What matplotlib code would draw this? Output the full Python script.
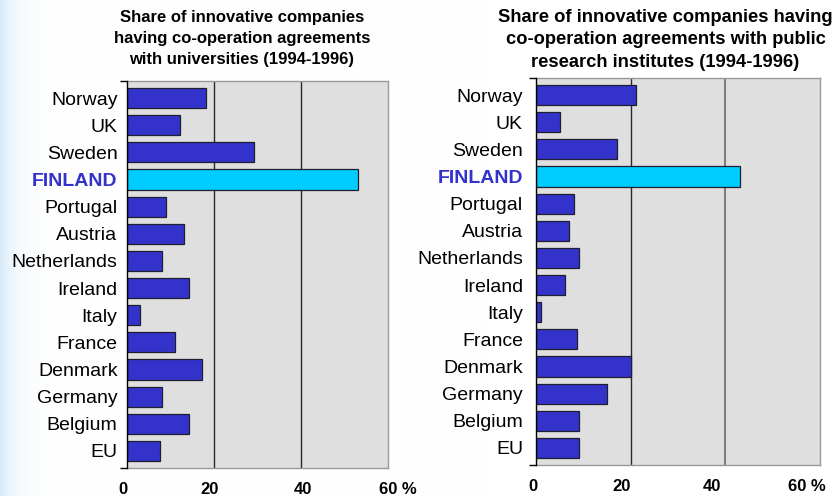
import numpy as np
import matplotlib
matplotlib.use("Agg")
import matplotlib.pyplot as plt
from matplotlib.transforms import ScaledTranslation

plt.rcParams['font.family'] = ['Liberation Sans', 'DejaVu Sans']

# ---------------- data ----------------
countries_left = ["Norway", "UK", "Sweden", "FINLAND", "Portugal", "Austria",
                  "Netherlands", "Ireland", "Italy", "France", "Denmark",
                  "Germany", "Belgium", "EU"]
universities = [18.2, 12.1, 29.1, 53.0, 9.0, 13.1, 8.0, 14.2, 3.0, 11.0, 17.2,
                8.1, 14.2, 7.5]

countries_right = ["Norway", "UK", "Sweden", "FINLAND", "Portugal", "Austria",
                   "Netherlands", "Ireland", "Italy", "France", "Denmark",
                   "Germany", "Belgium", "EU"]
institutes = [21.1, 5.1, 17.1, 43.0, 8.0, 7.0, 9.0, 6.1, 1.1, 8.6, 20.0,
              15.0, 9.1, 9.1]

x_ticks = [0, 20, 40, 60]
x_ticklabels = ["0", "20", "40", "60 %"]

title_left = "Share of innovative companies\nhaving co-operation agreements\nwith universities (1994-1996)"
title_right = "Share of innovative companies having\nco-operation agreements with public\nresearch institutes (1994-1996)"

highlight = "FINLAND"

# ---------------- styles ----------------
BAR = "#3333cc"
HILITE = "#00ccff"
FACE = "#dfdfdf"

fig = plt.figure(figsize=(8.4, 4.96), dpi=100)

# light blue slide background gradient on the left edge
bg = fig.add_axes([0, 0, 1, 1], zorder=-10)
w = 840
xs = np.arange(w)
fade = np.exp(-xs / 14.0)
img = np.ones((1, w, 3))
base = np.array([0.84, 0.92, 0.98])
for c in range(3):
    img[0, :, c] = 1 - (1 - base[c]) * fade
bg.imshow(img, aspect='auto', extent=[0, 1, 0, 1])
bg.set_axis_off()


def draw(ax, cats, vals, label_pad, offsets, dark40=True):
    y = np.arange(len(cats))
    colors = [HILITE if c == highlight else BAR for c in cats]
    ax.barh(y, vals, height=0.74, color=colors, edgecolor="#1e1e2e",
            linewidth=0.9, zorder=3)
    ax.set_facecolor(FACE)
    ax.set_xlim(0, 60)
    ax.set_ylim(13.63, -0.63)
    ax.set_yticks(y)
    ax.set_yticklabels(cats, fontsize=14)
    for lab in ax.get_yticklabels():
        if lab.get_text() == highlight:
            lab.set_color(BAR)
            lab.set_fontweight("bold")
    ax.tick_params(axis='y', length=0, pad=label_pad)
    ax.set_yticks([-0.63, 13.63], minor=True)
    ax.tick_params(axis='y', which='minor', length=5, width=1, color='black')
    ax.set_xticks(x_ticks)
    ax.set_xticklabels(x_ticklabels, fontsize=12, fontweight='bold')
    ax.tick_params(axis='x', length=0, pad=10)
    for lab, dx in zip(ax.get_xticklabels(), offsets):
        lab.set_transform(lab.get_transform() +
                          ScaledTranslation(dx / 100.0, 0, fig.dpi_scale_trans))
    for xv in [20, 40]:
        col = "#2a2a2a" if (xv == 20 or dark40) else "#7a7a7a"
        lw = 1.0 if (xv == 20 or dark40) else 1.4
        ax.axvline(xv, color=col, linewidth=lw, zorder=1)
    for s in ['top', 'right', 'bottom']:
        ax.spines[s].set_color("#9a9a9a")
        ax.spines[s].set_linewidth(1)
    ax.spines['left'].set_color("black")
    ax.spines['left'].set_linewidth(1)
    ax.spines['left'].set_zorder(4)


ax1 = fig.add_axes([127 / 840, 1 - 468 / 496, 261 / 840, 387 / 496])
draw(ax1, countries_left, universities, 6.8, [-4, -4, 2, 10], dark40=True)

ax2 = fig.add_axes([536 / 840, 1 - 465 / 496, 284 / 840, 387 / 496])
draw(ax2, countries_right, institutes, 9.4, [-3, -9, -13, -13], dark40=False)

fig.text(242 / 840, 1 - 10 / 496, title_left, ha='center', va='top',
         fontsize=12, fontweight='bold', linespacing=1.5)
fig.text(665.5 / 840, 1 - 9 / 496, title_right, ha='center', va='top',
         fontsize=13.2, fontweight='bold', linespacing=1.42)

fig.savefig("out.png", dpi=100)
